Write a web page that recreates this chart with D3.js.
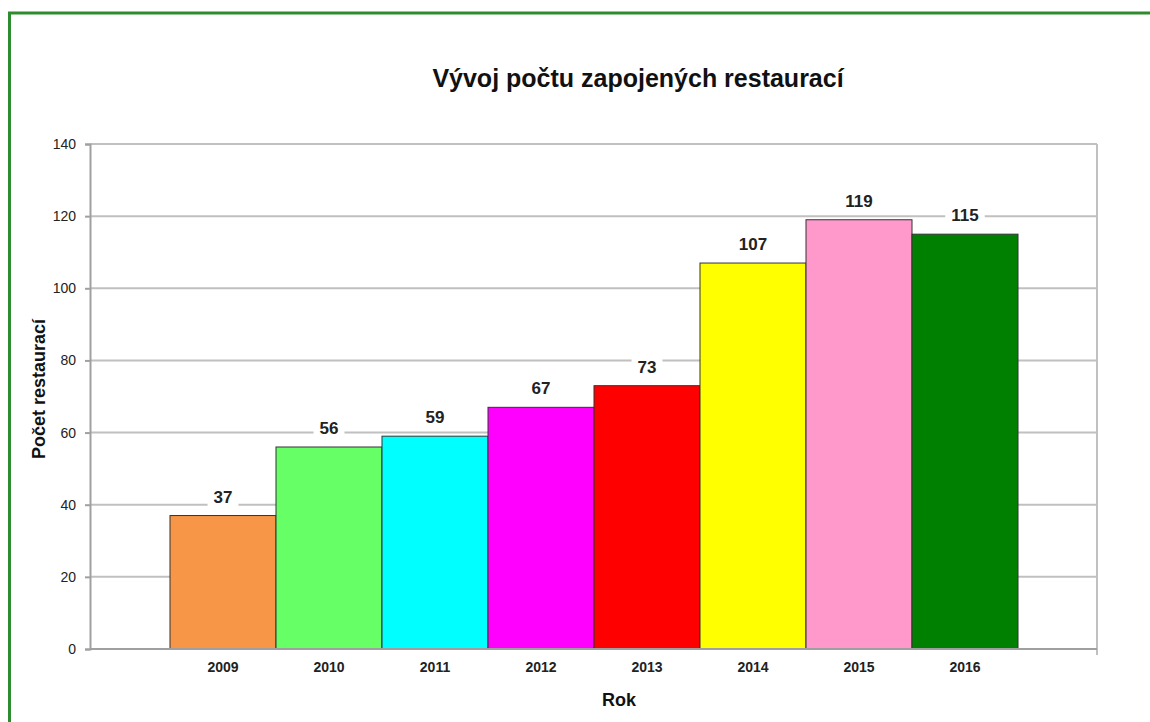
<!DOCTYPE html>
<html><head><meta charset="utf-8">
<script src="https://cdn.jsdelivr.net/npm/d3@7"></script>
<style>body{margin:0;background:#fff;} svg{display:block;font-family:Arial,"Liberation Sans",sans-serif;}</style>
</head><body>
<svg id="c" width="1150" height="722"></svg>
<script>
const categories = ["2009","2010","2011","2012","2013","2014","2015","2016"];
const values = [37,56,59,67,73,107,119,115];
const colors = ["#f79646","#66ff66","#00ffff","#ff00ff","#ff0000","#ffff00","#ff99cc","#008000"];
const yTicks = [0,20,40,60,80,100,120,140];
const title = "Vývoj počtu zapojených restaurací";
const yTitle = "Počet restaurací";
const xTitle = "Rok";

const svg = d3.select("#c");
// outer green frame
svg.append("rect").attr("x",9.5).attr("y",13).attr("width",1200).attr("height",800)
  .attr("fill","none").attr("stroke","#2e8b2e").attr("stroke-width",3);

const plot = {l:90, r:1097, t:144, b:649};
const x = d3.scaleBand().domain(categories).range([170,1018]).paddingInner(0).paddingOuter(0);
const y = d3.scaleLinear().domain([0,140]).range([plot.b, plot.t]);

// gridlines
svg.append("g").selectAll("line").data(yTicks.filter(d=>d>0)).join("line")
  .attr("x1",plot.l).attr("x2",plot.r).attr("y1",d=>y(d)).attr("y2",d=>y(d))
  .attr("stroke","#c0c0c0").attr("stroke-width",2);
// right border
svg.append("line").attr("x1",plot.r).attr("x2",plot.r).attr("y1",plot.t).attr("y2",plot.b+6)
  .attr("stroke","#c0c0c0").attr("stroke-width",2);

// y axis
const yAxis = d3.axisLeft(y).tickValues(yTicks).tickSize(5).tickPadding(9);
const ya = svg.append("g").attr("transform",`translate(${plot.l},0)`).call(yAxis);
ya.select(".domain").attr("stroke","#a0a0a0").attr("stroke-width",2);
ya.selectAll(".tick line").attr("stroke","#a0a0a0").attr("stroke-width",2);
ya.selectAll("text").attr("font-size",14).attr("fill","#222").attr("font-family","Arial, 'Liberation Sans', sans-serif");

// bars
svg.append("g").selectAll("rect").data(values).join("rect")
  .attr("x",(d,i)=>x(categories[i])).attr("width",x.bandwidth())
  .attr("y",d=>y(d)).attr("height",d=>y(0)-y(d))
  .attr("fill",(d,i)=>colors[i]).attr("stroke","#333").attr("stroke-width",1);

// x axis
svg.append("line").attr("x1",plot.l).attr("x2",plot.r).attr("y1",plot.b).attr("y2",plot.b)
  .attr("stroke","#a0a0a0").attr("stroke-width",2);
const xAxis = d3.axisBottom(x).tickSize(0).tickPadding(13);
const xa = svg.append("g").attr("transform",`translate(0,${plot.b})`).call(xAxis);
xa.select(".domain").remove();
xa.selectAll("text").attr("font-size",14).attr("font-weight","bold").attr("fill","#222")
  .attr("font-family","Arial, 'Liberation Sans', sans-serif");

// value labels with white boxes
const lg = svg.append("g").selectAll("g").data(values).join("g")
  .attr("transform",(d,i)=>`translate(${x(categories[i])+x.bandwidth()/2},${y(d)-19})`);
const bg = lg.append("rect").attr("fill","#fff");
const lt = lg.append("text").attr("text-anchor","middle").attr("dy","0.36em")
  .attr("font-size",17).attr("font-weight","bold").attr("fill","#222").text(d=>d);
lt.each(function(){
  const b = this.getBBox();
  d3.select(this.previousSibling).attr("x",-b.width/2-6).attr("y",-11).attr("width",b.width+12).attr("height",22);
});

// titles
svg.append("text").attr("x",638).attr("y",87).attr("text-anchor","middle")
  .attr("font-size",25).attr("font-weight","bold").attr("fill","#111").text(title);
svg.append("text").attr("transform","translate(45,389) rotate(-90)").attr("text-anchor","middle")
  .attr("font-size",18).attr("font-weight","bold").attr("fill","#111").text(yTitle);
svg.append("text").attr("x",619).attr("y",706).attr("text-anchor","middle")
  .attr("font-size",18).attr("font-weight","bold").attr("fill","#111").text(xTitle);
</script>
</body></html>
